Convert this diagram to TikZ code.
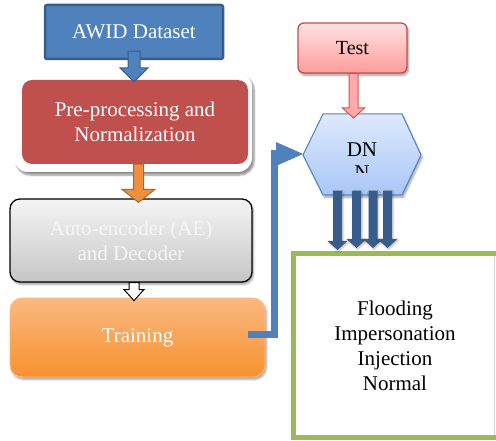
\documentclass[tikz,border=0pt]{standalone}
\usepackage{fontspec}
\setmainfont{Liberation Serif}
\usetikzlibrary{calc,shadows.blur}
\definecolor{awidblue}{HTML}{4F81BD}
\definecolor{awiddark}{HTML}{385D8A}
\definecolor{prered}{HTML}{C0504D}
\definecolor{orangearr}{HTML}{F0903F}
\definecolor{orangedark}{HTML}{B0642C}
\definecolor{greenbox}{HTML}{9BBB59}
\newcommand\dnblockarrow[6]{%
  \path[#1] let \p1=(#2), \p2=(#3) in
   (\x1-#4,\y1) -- (\x1+#4,\y1) -- (\x1+#4,\y2+#6) -- (\x1+#5,\y2+#6) -- (\x1,\y2)
   -- (\x1-#5,\y2+#6) -- (\x1-#4,\y2+#6) -- cycle;}
\begin{document}
\begin{tikzpicture}[x=1pt,y=-1pt,
  txt/.style={font=\fontsize{21}{25}\selectfont, align=center, inner sep=0pt},
  softshadow/.style={blur shadow={shadow xshift=1.5pt, shadow yshift=-2.5pt, shadow blur steps=6, shadow opacity=35}},
  awidbox/.style={draw=awiddark, line width=2.5pt, fill=awidblue, rounded corners=2pt, text=white},
  prebox/.style={fill=prered, rounded corners=10pt, text=white},
  aebox/.style={draw=black, line width=1.3pt, top color=gray!8, bottom color=gray!45, rounded corners=10pt, text=gray!8, softshadow},
  trainbox/.style={draw=orange!50, line width=0.8pt, top color={rgb,255:red,251;green,184;blue,128}, bottom color={rgb,255:red,247;green,145;blue,48}, rounded corners=12pt, text=white, softshadow},
  testbox/.style={draw=prered, line width=1.3pt, top color={rgb,255:red,255;green,226;blue,226}, bottom color={rgb,255:red,255;green,156;blue,156}, rounded corners=6pt, softshadow},
  hexstyle/.style={draw=awidblue, line width=1pt, top color={rgb,255:red,222;green,233;blue,252}, bottom color={rgb,255:red,168;green,199;blue,247}, softshadow},
  bluearrow/.style={fill=awidblue, draw=awiddark, line width=1pt},
  orangearrow/.style={fill=orangearr, draw=orangedark, line width=1pt},
  whitearrow/.style={fill=white, draw=black, line width=1pt},
  pinkarrow/.style={fill={rgb,255:red,255;green,170;blue,170}, draw={rgb,255:red,214;green,84;blue,80}, line width=1pt},
  darkarrow/.style={fill=awiddark, blur shadow={shadow xshift=1pt, shadow yshift=-1.5pt, shadow opacity=25}},
  connblue/.style={draw=awidblue, line width=7pt},
  outbox/.style={draw=greenbox, line width=5pt, fill=white}
]
\useasboundingbox (0,0) rectangle (496,441);
\clip (0,0) rectangle (496,441);

% AWID Dataset
\node[awidbox, minimum width=178pt, minimum height=54pt, txt] (awid) at (134,32) {AWID Dataset};

% Pre-processing (white frame with shadow)
\path[fill=white, rounded corners=14pt, blur shadow={shadow xshift=2pt, shadow yshift=-3pt, shadow blur steps=8, shadow opacity=45}] (14,73) rectangle (252,172);
\node[prebox, minimum width=226pt, minimum height=84pt, txt] (pre) at (135,122) {Pre-processing and\\Normalization};

% Auto-encoder
\node[aebox, minimum width=242pt, minimum height=83pt, txt] (ae) at (131,240.5) {Auto-encoder (AE)\\and Decoder};

% Training
\node[trainbox, minimum width=255pt, minimum height=79pt, txt] (train) at (137.5,337.5) {Training};

% Test
\node[testbox, minimum width=109pt, minimum height=50pt, font=\fontsize{20}{24}\selectfont] (test) at (352.5,48) {Test};

% Arrows between left boxes
\coordinate (a1s) at ($(awid.south)+(0,9pt)$);
\coordinate (a1t) at ($(pre.north)+(0,-2pt)$);
\dnblockarrow{bluearrow}{a1s}{a1t}{6pt}{14pt}{14pt}

\coordinate (a2s) at ($(pre.south)+(3.5pt,0)$);
\coordinate (a2t) at ($(ae.north)+(7.5pt,-4pt)$);
\dnblockarrow{orangearrow}{a2s}{a2t}{5pt}{16.5pt}{13pt}

\coordinate (a3s) at ($(ae.south)+(3pt,0)$);
\coordinate (a3t) at ($(train.north)+(-3.5pt,-3pt)$);
\dnblockarrow{whitearrow}{a3s}{a3t}{5pt}{10pt}{11pt}

% Hexagon DNN
\path[hexstyle] (323,114) -- (402,114) -- (421,155) -- (402,195) -- (323,195) -- (303,155) -- cycle;
\coordinate (hexw) at (303,154);
\coordinate (hexn) at (353.5,118);
\begin{scope}
  \clip (300,100) rectangle (430,173);
  \node[txt, anchor=base] (dnn) at (362,157) {DN};
  \node[txt, anchor=base] (dnn2) at (362,179.5) {N};
\end{scope}

% Test -> DNN
\coordinate (a4s) at ($(test.south)+(1pt,0)$);
\dnblockarrow{pinkarrow}{a4s}{hexn}{4.5pt}{11pt}{10pt}

% Training -> DNN connector
\coordinate (c0) at (248,334);
\coordinate (c1) at (274.5,334);
\coordinate (c2) at (274.5,154);
\coordinate (c3) at (280,154);
\draw[connblue] (c0) -- (c1) -- (c2) -- (c3);
\fill[awidblue] (276,142) -- (hexw) -- (276,166) -- cycle;

% Output box
\node[outbox, minimum width=210pt, minimum height=183.5pt] (out) at (398.5,345.25) {};
\draw[gray!30, line width=0.8pt] (494.5,256) -- (494.5,435);
\node[txt] (classes) at (395,345.5) {Flooding\\Impersonation\\Injection\\Normal};

% Four output arrows
\foreach \xx/\tt [count=\i] in {337.5/250, 356.5/248, 373/248, 387.5/248} {
  \coordinate (os\i) at (\xx,191);
  \coordinate (ot\i) at (\xx,\tt);
  \dnblockarrow{darkarrow}{os\i}{ot\i}{4.5pt}{10pt}{9pt}
}
\end{tikzpicture}
\end{document}
